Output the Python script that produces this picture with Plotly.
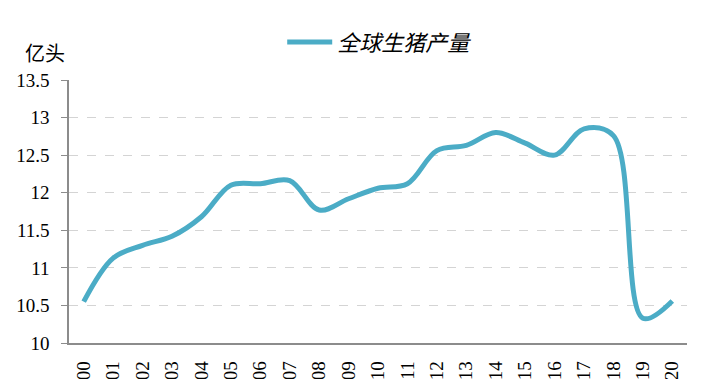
import plotly.graph_objects as go

years = [str(y) for y in range(2000, 2021)]
production = [10.55, 11.13, 11.30, 11.42, 11.68, 12.10, 12.12, 12.16, 11.77, 11.92,
              12.06, 12.12, 12.56, 12.63, 12.80, 12.66, 12.50, 12.85, 12.76, 10.33, 10.56]
series_name = "全球生猪产量"
y_ticks = [10, 10.5, 11, 11.5, 12, 12.5, 13, 13.5]
y_tick_text = ["10", "10.5", "11", "11.5", "12", "12.5", "13", "13.5"]

SERIF = "Liberation Serif, DejaVu Serif"

fig = go.Figure()
fig.add_trace(go.Scatter(
    x=years, y=production, mode="lines", name="<i>" + series_name + "</i>",
    line=dict(color="#4BACC6", width=5, shape="spline", smoothing=1.0),
))

fig.update_layout(
    width=720, height=379,
    margin=dict(l=69, r=33, t=80, b=36, autoexpand=False),
    paper_bgcolor="white", plot_bgcolor="white",
    showlegend=True,
    legend=dict(orientation="h", x=0.345, xanchor="left", y=1.144, yanchor="middle",
                itemwidth=45,
                font=dict(family="Noto Sans CJK SC", size=22, color="black"),
                bgcolor="rgba(0,0,0,0)"),
    font=dict(family=SERIF, size=19, color="black"),
    annotations=[dict(text="亿头", xref="paper", yref="paper", x=-0.039, y=1.106,
                      xanchor="center", yanchor="middle", showarrow=False,
                      font=dict(family="Noto Sans CJK SC", size=20, color="black"))],
)
fig.update_xaxes(
    type="category", range=[-0.5, 20.5], tickangle=-90, showgrid=False,
    showline=True, linecolor="#8c8c8c", linewidth=1.5,
    ticks="", automargin=False, ticklabelstandoff=9,
    tickfont=dict(family=SERIF, size=19, color="black"),
)
fig.update_yaxes(
    range=[10, 13.5], tickvals=y_ticks, ticktext=y_tick_text,
    showline=True, linecolor="#8c8c8c", linewidth=1.5,
    ticks="outside", ticklen=6, tickcolor="#8c8c8c",
    showgrid=True, gridcolor="#d4d4d4", griddash="dash", gridwidth=1,
    zeroline=False, automargin=False, ticklabelstandoff=8,
    tickfont=dict(family=SERIF, size=19, color="black"),
)
fig.write_html("out.html")
